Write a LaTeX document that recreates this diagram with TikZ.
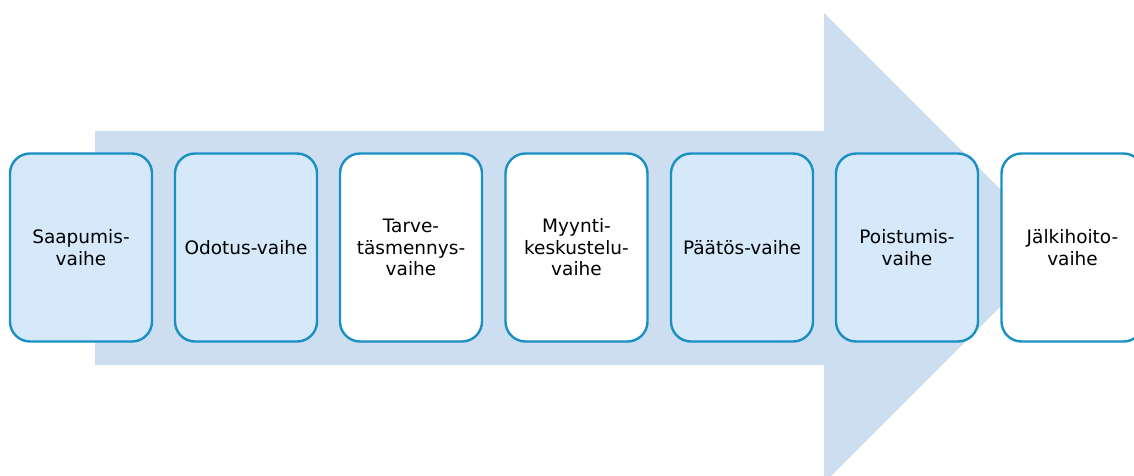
\documentclass[tikz,border=0pt]{standalone}
\usepackage{fontspec}
\setmainfont{DejaVu Sans}
\begin{document}
\begin{tikzpicture}[x=1pt,y=-1pt,
  phase/.style={draw=phaseline, line width=2.4pt, rounded corners=20pt,
    minimum width=142pt, minimum height=188pt, inner sep=0pt,
    align=center, font=\fontsize{18.5}{21.5}\selectfont, text=black},
  blue phase/.style={phase, fill=phasefill},
  white phase/.style={phase, fill=white}]
\definecolor{arrowfill}{HTML}{CCDEEF}
\definecolor{phasefill}{HTML}{D5E9FB}
\definecolor{phaseline}{HTML}{1A8FC4}
\useasboundingbox (0,0) rectangle (1134,475);
% background process arrow
\fill[arrowfill] (95,131) -- (824,131) -- (824,13) -- (1059,248)
  -- (824,483) -- (824,365) -- (95,365) -- cycle;
% phases
\node[blue phase]  (p1) at (81,247.5)   {Saapumis-\\vaihe};
\node[blue phase]  (p2) at (246,247.5)  {Odotus-vaihe};
\node[white phase] (p3) at (411,247.5)  {Tarve-\\täsmennys-\\vaihe};
\node[white phase] (p4) at (576.5,247.5){Myynti-\\keskustelu-\\vaihe};
\node[blue phase]  (p5) at (742,247.5)  {Päätös-vaihe};
\node[blue phase]  (p6) at (907,247.5)  {Poistumis-\\vaihe};
\node[white phase] (p7) at (1072.5,247.5){Jälkihoito-\\vaihe};
\end{tikzpicture}
\end{document}
